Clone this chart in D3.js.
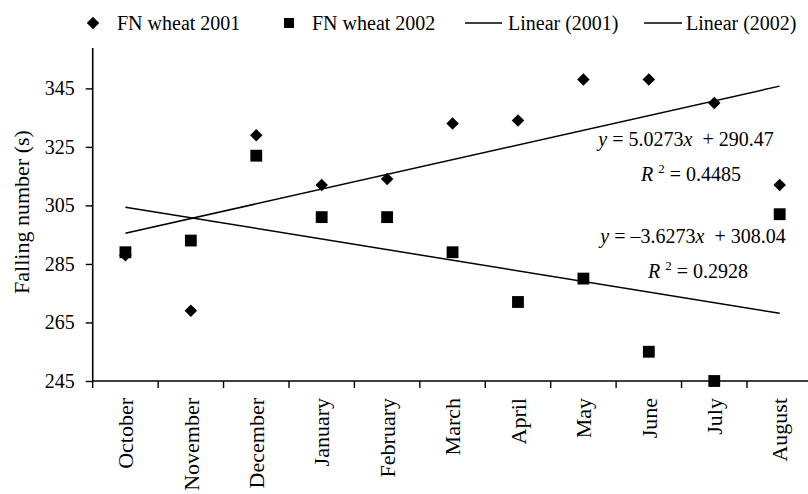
<!DOCTYPE html>
<html>
<head>
<meta charset="utf-8">
<script src="https://cdn.jsdelivr.net/npm/d3@7"></script>
<style>
  body { margin: 0; background: #fff; }
  text { font-family: "Liberation Serif", "Times New Roman", serif; fill: #000; }
</style>
</head>
<body>
<div id="chart"></div>
<script>
// months of the season
var months = ["October", "November", "December", "January", "February", "March",
              "April", "May", "June", "July", "August"];

// falling number readings (s)
var fn2001 = [288, 269, 329, 312, 314, 333, 334, 348, 348, 340, 312];
var fn2002 = [289, 293, 322, 301, 301, 289, 272, 280, 255, 245, 302];

// trendline coefficients as printed on the chart (slope, intercept)
var trend2001 = [5.0273, 290.47];
var trend2002 = [-3.6273, 308.04];

var yTicks = [245, 265, 285, 305, 325, 345];

var width = 808, height = 494;

var svg = d3.select("#chart")
  .append("svg")
    .attr("width", width)
    .attr("height", height);

// scales -- plot runs a bit past the right edge like the original
var x = d3.scaleBand()
  .domain(months)
  .range([92.7, 812.4])
  .padding(0);

var y = d3.scaleLinear()
  .domain([245, 358.8])
  .range([381, 48]);

// Y axis
var yAxis = svg.append("g")
  .attr("transform", "translate(" + 92.7 + ",0)")
  .call(d3.axisLeft(y).tickValues(yTicks).tickSize(7).tickPadding(11));
yAxis.select(".domain").attr("stroke-width", 1.6).attr("d", "M0," + y(358.8) + "V" + y(245));
yAxis.selectAll(".tick line").attr("stroke-width", 1.4);
yAxis.selectAll(".tick text")
  .style("font-size", "20px")
  .attr("font-family", null);

// X axis: ticks sit between categories
var xAxis = svg.append("g")
  .attr("transform", "translate(0," + y(245) + ")");
xAxis.append("path")
  .attr("d", "M" + x.range()[0] + ",0H" + x.range()[1])
  .attr("stroke", "#000")
  .attr("stroke-width", 1.6);
xAxis.selectAll(".xt")
  .data(months)
  .enter()
  .append("line")
    .attr("x1", function(d) { return x(d) })
    .attr("x2", function(d) { return x(d) })
    .attr("y1", 0)
    .attr("y2", 7)
    .attr("stroke", "#000")
    .attr("stroke-width", 1.4);
xAxis.selectAll(".xl")
  .data(months)
  .enter()
  .append("text")
    .attr("transform", function(d) {
      return "translate(" + (x(d) + x.bandwidth() / 2) + ",17) rotate(-90)";
    })
    .attr("dy", "0.35em")
    .style("text-anchor", "end")
    .style("font-size", "22px")
    .text(function(d) { return d });

// axis title
svg.append("text")
  .attr("transform", "translate(29,212) rotate(-90)")
  .style("text-anchor", "middle")
  .style("font-size", "22px")
  .text("Falling number (s)");

// trend lines from first to last month (x = 1..11)
var trendLine = function(coef) {
  return [months[0], months[months.length - 1]].map(function(m) {
    var i = months.indexOf(m) + 1;
    return { m: m, v: coef[0] * i + coef[1] };
  });
};
var line = d3.line()
  .x(function(d) { return x(d.m) + x.bandwidth() / 2 })
  .y(function(d) { return y(d.v) });

[trend2001, trend2002].forEach(function(c) {
  svg.append("path")
    .datum(trendLine(c))
    .attr("fill", "none")
    .attr("stroke", "#000")
    .attr("stroke-width", 1.5)
    .attr("d", line);
});

// points
var diamond = d3.symbol().type(d3.symbolDiamond2).size(100);
var square = d3.symbol().type(d3.symbolSquare).size(140);

svg.append("g")
  .selectAll("path")
  .data(fn2001)
  .enter()
  .append("path")
    .attr("d", diamond)
    .attr("transform", function(d, i) {
      return "translate(" + (x(months[i]) + x.bandwidth() / 2) + "," + y(d) + ")";
    })
    .attr("fill", "#000");

svg.append("g")
  .selectAll("path")
  .data(fn2002)
  .enter()
  .append("path")
    .attr("d", square)
    .attr("transform", function(d, i) {
      return "translate(" + (x(months[i]) + x.bandwidth() / 2) + "," + y(d) + ")";
    })
    .attr("fill", "#000");

// equations
var eq = function(cx, by, coef, r2) {
  var t = svg.append("text")
    .attr("x", cx)
    .attr("y", by)
    .style("text-anchor", "middle")
    .style("font-size", "20px");
  t.append("tspan").style("font-style", "italic").text("y");
  var sign = coef[0] < 0 ? "\u2013" : "";
  t.append("tspan").text(" = " + sign + Math.abs(coef[0]).toFixed(4));
  t.append("tspan").style("font-style", "italic").text("x");
  t.append("tspan").attr("xml:space", "preserve").text("  + " + coef[1].toFixed(2));

  var r = svg.append("text")
    .attr("x", cx + 5)
    .attr("y", by + 35)
    .style("text-anchor", "middle")
    .style("font-size", "20px");
  r.append("tspan").style("font-style", "italic").text("R ");
  r.append("tspan").attr("dy", -8).style("font-size", "13px").text("2");
  r.append("tspan").attr("dy", 8).text(" = " + r2);
};
eq(686, 146, trend2001, "0.4485");
eq(693, 243, trend2002, "0.2928");

// legend
var lg = svg.append("g");
lg.append("path").attr("d", diamond).attr("transform", "translate(93,23)").attr("fill", "#000");
lg.append("text").attr("x", 117).attr("y", 30).style("font-size", "20px").text("FN wheat 2001");
lg.append("path").attr("d", square).attr("transform", "translate(289,23)").attr("fill", "#000")
  .attr("d", d3.symbol().type(d3.symbolSquare).size(100));
lg.append("text").attr("x", 312).attr("y", 30).style("font-size", "20px").text("FN wheat 2002");
lg.append("line").attr("x1", 465).attr("x2", 502).attr("y1", 23).attr("y2", 23)
  .attr("stroke", "#000").attr("stroke-width", 1.5);
lg.append("text").attr("x", 508).attr("y", 30).style("font-size", "20px").text("Linear (2001)");
lg.append("line").attr("x1", 644).attr("x2", 682).attr("y1", 23).attr("y2", 23)
  .attr("stroke", "#000").attr("stroke-width", 1.5);
lg.append("text").attr("x", 686).attr("y", 30).style("font-size", "20px").text("Linear (2002)");
</script>
</body>
</html>
